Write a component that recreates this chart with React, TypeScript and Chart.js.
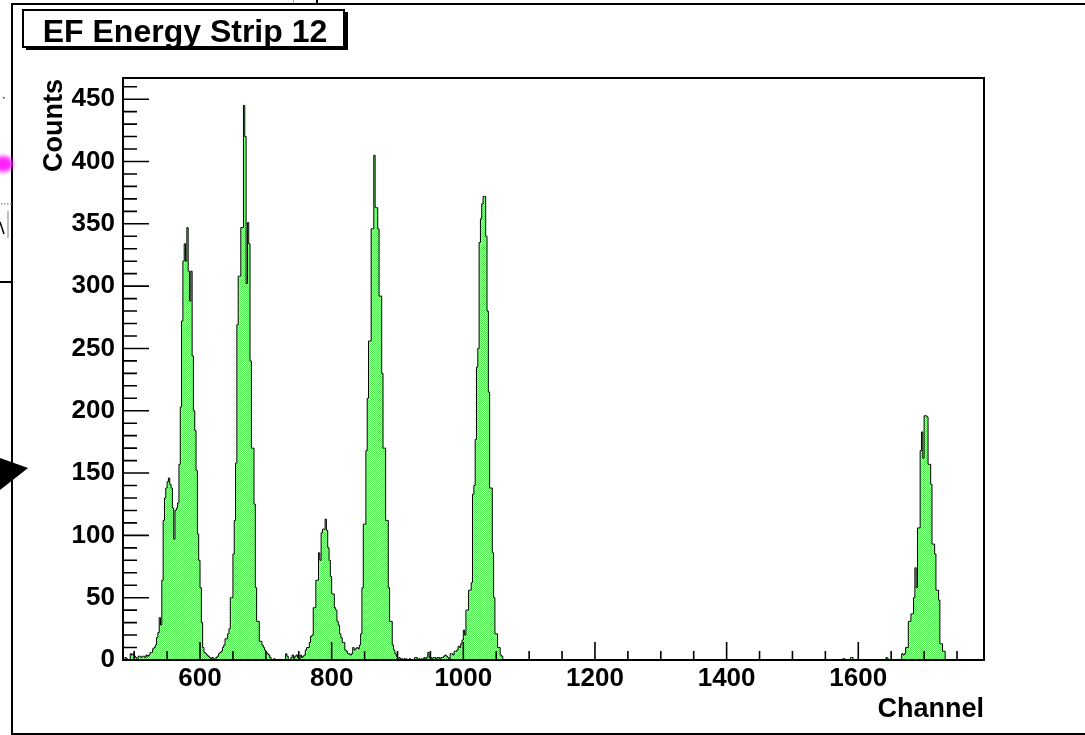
import React, { useEffect, useRef } from "react";
import { Chart, registerables } from "chart.js";

Chart.register(...registerables);

// ---------- axis ranges & ticks ----------
const X_MIN = 483;
const X_MAX = 1791;
const Y_MIN = 0;
const Y_MAX = 467;
const X_TICK_LABELS = [600, 800, 1000, 1200, 1400, 1600];
const Y_TICK_LABELS = [0, 50, 100, 150, 200, 250, 300, 350, 400, 450];
const X_MAJOR_STEP = 200;
const X_MINOR_STEP = 50;
const Y_MAJOR_STEP = 50;
const Y_MINOR_STEP = 10;

// ---------- texts ----------
const TITLE = "EF Energy Strip 12";
const X_TITLE = "Channel";
const Y_TITLE = "Counts";

// ---------- histogram (bin width 2 channels) ----------
const BIN_WIDTH = 2;
const HIST_START = 482;
const HIST_END = 1792;

const peakAStart = 482;
const peakACounts = [
  1, 0, 0, 2, 1, 0, 0, 5, 4, 5,
  3, 2, 0, 3, 3, 2, 3, 3, 2, 4,
  3, 4, 6, 6, 9, 10, 12, 18, 22, 34,
  28, 64, 112, 130, 138, 143, 146, 141, 138, 122,
  97, 120, 122, 126, 157, 203, 272, 320, 334, 320,
  347, 312, 288, 312, 244, 200, 184, 152, 101, 80,
  58, 30, 10, 6, 5, 4, 3, 2, 1,
];

const peakBStart = 620;
const peakBCounts = [
  2, 1, 0, 2, 3, 5, 6, 7, 10, 12,
  17, 17, 21, 25, 50, 50, 85, 112, 158, 269,
  308, 308, 347, 347, 445, 420, 302, 351, 334, 240,
  170, 170, 125, 58, 31, 31, 15, 15, 12, 10,
  8, 6, 5, 4, 2, 0, 0, 1, 0, 0,
];

const peakCStart = 720;
const peakCCounts = [
  0, 0, 0, 0, 0, 0, 5, 3, 0, 0,
  2, 4, 1, 3, 4, 2, 1, 4, 2, 3,
  4, 8, 10, 10, 14, 19, 20, 42, 42, 64,
  64, 86, 80, 102, 105, 105, 113, 104, 90, 80,
  67, 53, 53, 42, 40, 31, 28, 21, 18, 14,
  14, 8, 7, 5, 5, 4, 5, 10, 8, 9,
];

const peakDStart = 840;
const peakDCounts = [
  10, 9, 12, 21, 58, 109, 109, 168, 210, 256,
  256, 346, 346, 405, 363, 363, 346, 292, 292, 230,
  170, 170, 112, 112, 58, 31, 31, 12, 8, 5,
  3, 1,
];

const peakEStart = 904;
const peakECounts = [
  2, 1, 1, 0, 1, 1, 0, 0, 1, 0,
  0, 0, 2, 2, 0, 1, 0, 1, 0, 2,
  1, 2, 6, 2, 2, 1, 2, 2, 1, 2,
  2, 1, 2, 2, 3, 4, 3, 2, 1, 5,
  5, 4, 7, 7, 8, 11, 10, 13, 16, 24,
  20, 40, 40, 56, 56, 62, 133, 140, 177, 235,
  250, 335, 354, 366, 372, 372, 340, 280, 215, 138,
  138, 86, 50, 21, 21, 10, 10, 4, 3, 0,
];

const peakFStart = 1576;
const peakFCounts = [
  0, 1, 1, 0, 0, 0, 0, 2, 2, 0,
  0, 0, 0, 0, 0, 0, 0, 0, 0, 0,
  0, 0, 0, 0, 0, 0, 0, 0, 0, 0,
  0, 0, 0, 0, 2, 1, 0, 0, 0, 0,
  0, 0, 0, 0, 0, 0, 5, 4, 5, 10,
  10, 31, 31, 37, 37, 50, 74, 58, 106, 106,
  168, 183, 162, 196, 196, 195, 157, 157, 141, 93,
  93, 85, 56, 56, 48, 13, 13, 7, 7, 0,
];

const SEGMENTS: [number, number[]][] = [
  [peakAStart, peakACounts],
  [peakBStart, peakBCounts],
  [peakCStart, peakCCounts],
  [peakDStart, peakDCounts],
  [peakEStart, peakECounts],
  [peakFStart, peakFCounts],
];

function buildPoints() {
  const n = Math.round((HIST_END - HIST_START) / BIN_WIDTH);
  const bins = new Array(n).fill(0);
  SEGMENTS.forEach(([start, counts]) => {
    const off = Math.round((start - HIST_START) / BIN_WIDTH);
    counts.forEach((c, i) => {
      bins[off + i] = c;
    });
  });
  const pts = bins.map((c, i) => ({ x: HIST_START + i * BIN_WIDTH, y: c }));
  pts.push({ x: HIST_END, y: 0 });
  return pts;
}

const FONT = "'Liberation Sans', Arial, Helvetica, sans-serif";

const rootPlugin = {
  id: "rootDecor",
  beforeDraw(chart: any) {
    const ctx = chart.ctx;
    ctx.save();
    ctx.fillStyle = "#ffffff";
    ctx.fillRect(0, 0, chart.width, chart.height);
    ctx.restore();
  },
  afterDatasetsDraw(chart: any) {
    const ctx = chart.ctx;
    const { left, top, right, bottom } = chart.chartArea;
    const xs = chart.scales.x;
    const ys = chart.scales.y;
    ctx.save();
    ctx.strokeStyle = "#000";
    ctx.lineWidth = 1.6;
    ctx.beginPath();
    for (let v = Math.ceil(X_MIN / X_MINOR_STEP) * X_MINOR_STEP; v <= X_MAX; v += X_MINOR_STEP) {
      const px = xs.getPixelForValue(v);
      const len = v % X_MAJOR_STEP === 0 ? 18 : 9;
      ctx.moveTo(px, bottom);
      ctx.lineTo(px, bottom - len);
    }
    for (let v = Y_MIN; v <= Y_MAX; v += Y_MINOR_STEP) {
      const py = ys.getPixelForValue(v);
      const len = v % Y_MAJOR_STEP === 0 ? 26 : 14;
      ctx.moveTo(left, py);
      ctx.lineTo(left + len, py);
    }
    ctx.stroke();
    ctx.lineWidth = 2;
    ctx.strokeRect(left, top, right - left, bottom - top);
    ctx.restore();
  },
  afterDraw(chart: any) {
    const ctx = chart.ctx;
    const { top, right } = chart.chartArea;
    ctx.save();
    // outer pad frame
    ctx.strokeStyle = "#000";
    ctx.lineWidth = 2;
    ctx.beginPath();
    ctx.moveTo(chart.width, 4);
    ctx.lineTo(12, 4);
    ctx.lineTo(12, 734);
    ctx.lineTo(chart.width, 734);
    ctx.stroke();
    // small marks at the top edge
    ctx.beginPath();
    ctx.moveTo(317, 0);
    ctx.lineTo(317, 4);
    ctx.stroke();
    ctx.strokeStyle = "#aaa";
    ctx.lineWidth = 1;
    ctx.beginPath();
    ctx.moveTo(293.5, 0);
    ctx.lineTo(293.5, 3);
    ctx.stroke();

    // title box with shadow
    ctx.fillStyle = "#fff";
    ctx.fillRect(23, 10, 321, 37);
    ctx.fillStyle = "#000";
    ctx.fillRect(345, 12, 3, 38);
    ctx.fillRect(26, 48, 322, 2);
    ctx.strokeStyle = "#000";
    ctx.lineWidth = 2;
    ctx.strokeRect(23, 10, 321, 37);
    ctx.font = `bold 32px ${FONT}`;
    ctx.textAlign = "center";
    ctx.textBaseline = "alphabetic";
    ctx.fillText(TITLE, 185, 42);

    // axis titles
    ctx.font = `bold 27px ${FONT}`;
    ctx.textAlign = "right";
    ctx.fillText(X_TITLE, right, 717);
    ctx.save();
    ctx.translate(62, top + 1);
    ctx.rotate(-Math.PI / 2);
    ctx.textAlign = "right";
    ctx.fillText(Y_TITLE, 0, 0);
    ctx.restore();

    // cropped bits of the neighbouring screen at the left edge
    ctx.save();
    ctx.filter = "blur(2px)";
    ctx.fillStyle = "#ff22ff";
    ctx.beginPath();
    ctx.ellipse(3, 164, 10, 8, 0, 0, Math.PI * 2);
    ctx.fill();
    ctx.restore();
    ctx.fillStyle = "#999";
    for (let i = 0; i < 4; i++) ctx.fillRect(1 + i * 3, 203, 1.5, 1.5);
    ctx.fillStyle = "#333";
    ctx.fillRect(3, 97, 1.5, 1.5);
    ctx.strokeStyle = "#aaa";
    ctx.lineWidth = 1.5;
    ctx.beginPath();
    ctx.moveTo(8, 211);
    ctx.lineTo(8, 238);
    ctx.stroke();
    ctx.strokeStyle = "#000";
    ctx.lineWidth = 1.5;
    ctx.beginPath();
    ctx.moveTo(0, 222);
    ctx.lineTo(4, 234);
    ctx.stroke();
    ctx.lineWidth = 2;
    ctx.beginPath();
    ctx.moveTo(0, 282);
    ctx.lineTo(12, 282);
    ctx.stroke();
    ctx.fillStyle = "#000";
    ctx.beginPath();
    ctx.moveTo(0, 458);
    ctx.lineTo(28, 468);
    ctx.lineTo(0, 490);
    ctx.closePath();
    ctx.fill();
    ctx.restore();
  },
};

export default function App() {
  const ref = useRef<HTMLCanvasElement>(null);

  useEffect(() => {
    const canvas = ref.current;
    if (!canvas) return;
    const ctx = canvas.getContext("2d");
    if (!ctx) return;

    const pc = document.createElement("canvas");
    pc.width = 2;
    pc.height = 2;
    const p = pc.getContext("2d")!;
    p.fillStyle = "#c6ffc6";
    p.fillRect(0, 0, 2, 2);
    p.fillStyle = "#4ef04e";
    p.fillRect(0, 0, 1, 1);
    p.fillRect(1, 1, 1, 1);
    const pattern = ctx.createPattern(pc, "repeat") || "#88f488";

    const tickFont = { family: FONT, size: 26, weight: "bold" as const, lineHeight: 1 };
    const plain = (v: any) => String(v);

    const chart = new Chart(canvas, {
      type: "line",
      data: {
        datasets: [
          {
            data: buildPoints(),
            stepped: "after",
            fill: "origin",
            backgroundColor: pattern as any,
            borderColor: "#000",
            borderWidth: 1,
            pointRadius: 0,
            tension: 0,
          },
        ],
      },
      options: {
        animation: false,
        responsive: false,
        devicePixelRatio: 1,
        events: [],
        layout: { padding: { left: 0, right: 101, top: 78, bottom: 35 } },
        plugins: {
          legend: { display: false },
          tooltip: { enabled: false },
          title: { display: false },
        },
        scales: {
          x: {
            type: "linear",
            min: X_MIN,
            max: X_MAX,
            grid: { display: false, drawTicks: false },
            border: { display: false },
            ticks: { color: "#000", font: tickFont, padding: 6, maxRotation: 0, callback: plain },
            afterBuildTicks: (s: any) => {
              s.ticks = X_TICK_LABELS.map((value) => ({ value }));
            },
            afterFit: (s: any) => {
              s.height = 40;
            },
          },
          y: {
            type: "linear",
            min: Y_MIN,
            max: Y_MAX,
            grid: { display: false, drawTicks: false },
            border: { display: false },
            ticks: { color: "#000", font: tickFont, padding: 8, callback: plain },
            afterBuildTicks: (s: any) => {
              s.ticks = Y_TICK_LABELS.map((value) => ({ value }));
            },
            afterFit: (s: any) => {
              s.width = 123;
            },
          },
        },
      } as any,
      plugins: [rootPlugin],
    });

    return () => chart.destroy();
  }, []);

  return (
    <div
      style={{
        position: "absolute",
        left: 0,
        top: 0,
        width: 1085,
        height: 735,
        background: "#fff",
        overflow: "hidden",
      }}
    >
      <canvas ref={ref} width={1085} height={735} style={{ display: "block", width: 1085, height: 735 }} />
    </div>
  );
}
